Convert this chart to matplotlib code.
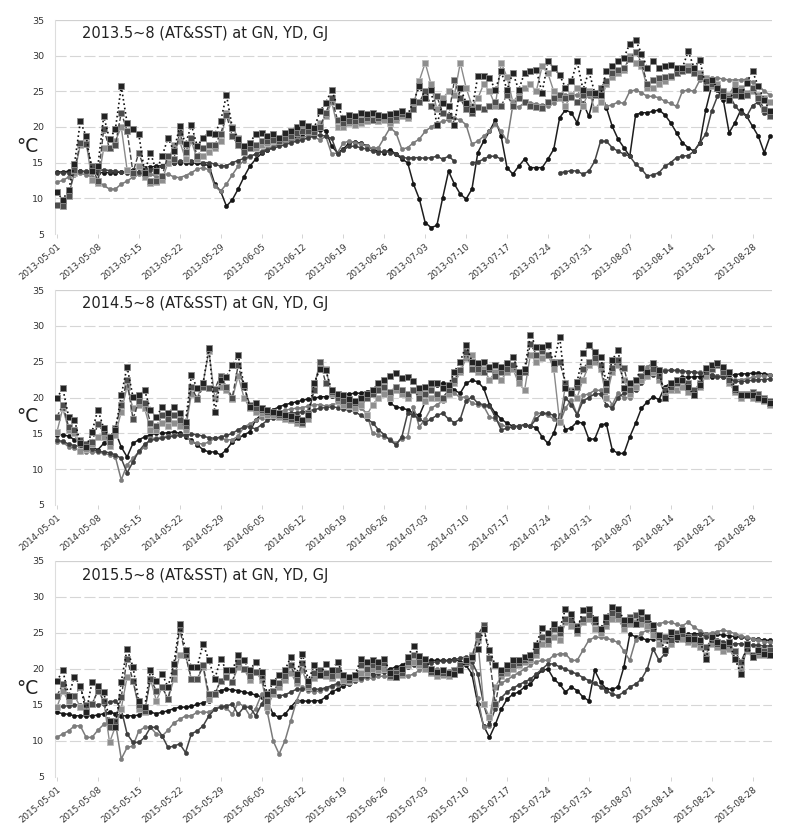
"""
AT & SST daily series (May-Aug) at GN, YD, GJ for 2013, 2014, 2015
"""

import matplotlib
matplotlib.use("Agg")
import matplotlib.pyplot as plt
import matplotlib.dates as mdates
import pandas as pd

nan = float('nan')

# ---------------- 2013 ----------------
at_gn_2013 = [10.9, 9.8, 11.2, 14.8, 20.8, 18.7, 13.8, 14.5, 21.5, 18.3,
              19.7, 25.7, 20.6, 19.7, 19.0, 13.6, 16.4, 13.8, 15.9, 18.5,
              16.6, 20.1, 17.6, 20.3, 17.3, 18.5, 19.2, 19.0, 20.8, 24.5,
              19.9, 18.3, 17.3, 17.8, 19.0, 19.2, 18.8, 19.0, 18.5, 19.2,
              19.5, 20.0, 20.5, 20.2, 19.8, 22.2, 23.4, 25.2, 22.9, 21.3,
              21.7, 21.5, 22.0, 21.8, 22.0, 21.7, 21.5, 21.8, 22.0, 22.2,
              21.7, 23.6, 25.7, 24.0, 25.2, 20.3, 23.4, 23.0, 20.3, 25.5,
              23.4, 22.4, 27.1, 27.2, 26.9, 25.2, 27.8, 25.2, 27.6, 25.2,
              27.6, 27.8, 28.0, 24.8, 29.2, 28.3, 27.3, 25.5, 26.4, 29.2,
              25.2, 27.8, 24.8, 24.5, 27.8, 28.5, 29.2, 29.7, 31.7, 32.2,
              30.3, 28.3, 29.2, 28.3, 28.5, 28.7, 28.3, 28.3, 30.6, 28.3,
              29.4, 25.5, 26.6, 25.5, 24.3, 23.8, 25.2, 24.3, 26.2, 27.8,
              25.7, 23.8, 22.2]
at_yd_2013 = [9.0, 8.9, 10.3, 14.0, 17.8, 17.6, 14.5, 12.4, 19.7, 17.0,
              17.5, 22.0, 19.5, 13.6, 16.4, 14.0, 12.4, 12.4, 13.2, 16.0,
              15.5, 19.2, 16.5, 18.5, 16.0, 17.0, 17.5, 17.5, 19.0, 21.7,
              18.7, 17.5, 16.5, 17.0, 17.5, 18.0, 18.0, 18.2, 18.0, 18.5,
              18.8, 19.2, 19.5, 19.5, 19.3, 20.0, 22.0, 24.0, 21.0, 20.5,
              20.8, 20.8, 21.0, 21.2, 21.0, 21.3, 21.5, 21.0, 21.4, 21.8,
              21.5, 22.5, 23.5, 25.0, 23.0, 24.3, 22.0, 21.5, 26.6, 24.0,
              22.5, 22.0, 22.8, 22.5, 23.0, 23.5, 23.0, 24.5, 23.0, 24.0,
              23.5, 23.0, 22.8, 22.7, 23.5, 24.0, 24.5, 24.0, 24.2, 23.5,
              24.5, 24.8, 24.5, 25.5, 26.5, 27.5, 28.0, 28.3, 29.5, 30.5,
              29.0, 26.0, 26.6, 26.8, 27.0, 27.2, 27.5, 27.8, 28.0, 27.5,
              27.0, 26.5, 26.0, 25.5, 25.0, 24.0, 24.5, 25.0, 24.5, 25.5,
              24.0, 22.5, 21.5]
at_gj_2013 = [9.0, 9.2, 10.5, 13.5, 17.5, 17.8, 12.5, 12.2, 17.0, 17.0,
              18.0, 20.0, 14.0, 13.5, 14.5, 13.0, 12.2, 12.3, 12.6, 15.0,
              17.5, 18.0, 15.5, 18.0, 15.5, 16.0, 16.5, 17.0, 18.0, 22.0,
              20.0, 18.5, 16.8, 17.2, 17.0, 17.5, 17.8, 18.0, 18.5, 18.8,
              19.0, 19.5, 19.8, 20.0, 19.6, 20.5, 21.5, 23.5, 20.0, 20.0,
              20.5, 20.3, 20.5, 20.8, 21.0, 20.8, 21.0, 20.5, 21.0, 21.5,
              21.2, 23.0, 26.5, 29.0, 26.0, 22.5, 24.0, 25.0, 24.5, 29.0,
              25.5, 23.0, 24.0, 26.0, 25.0, 23.0, 29.0, 27.0, 23.5, 24.5,
              25.5, 26.0, 25.0, 28.5, 27.5, 25.0, 24.0, 23.0, 24.5, 25.5,
              23.0, 25.0, 22.5, 23.5, 26.0, 27.0, 27.5, 28.0, 30.0, 29.0,
              28.5, 25.5, 25.5, 26.0, 26.5, 27.0, 27.5, 28.0, 28.5, 28.0,
              27.5, 26.8, 25.8, 26.0, 25.0, 24.5, 26.0, 25.5, 24.8, 25.0,
              24.5, 24.0, 23.5]
sst_gn_2013 = [13.7, 13.7, 13.8, 13.8, 13.8, 13.7, 13.7, 13.6, 13.6, 13.6,
               13.6, 13.7, 13.8, 14.0, 14.2, 14.3, 14.4, 14.5, 14.6, 14.8,
               15.0, 15.0, 15.0, 15.0, 14.9, 14.8, 14.6, 12.0, 11.0, 8.9,
               9.8, 11.3, 13.0, 14.5, 15.5, 16.3, 16.8, 17.2, 17.6, 18.0,
               18.3, 18.6, 18.9, 19.2, 19.4, 19.6, 19.5, 17.3, 16.4, 16.9,
               17.8, 17.9, 17.7, 17.4, 16.9, 16.6, 16.4, 16.8, 16.2, 15.5,
               15.0, 12.0, 9.9, 6.6, 5.9, 6.2, 10.1, 13.8, 12.0, 10.6,
               9.9, 11.3, 16.4, 18.0, 19.4, 21.0, 18.7, 14.3, 13.4, 14.5,
               15.5, 14.3, 14.3, 14.3, 15.5, 16.9, 21.3, 22.4, 22.0, 20.6,
               23.4, 21.5, 24.8, 25.0, 22.7, 20.1, 18.3, 17.1, 15.9, 21.7,
               22.0, 22.0, 22.2, 22.4, 21.7, 20.6, 19.2, 17.8, 17.1, 16.6,
               17.8, 22.4, 25.7, 25.2, 23.8, 19.2, 20.6, 22.4, 21.5, 20.1,
               18.7, 16.4, 18.7]
sst_yd_2013 = [12.3, 12.5, 13.0, 13.3, 13.5, 13.3, 13.0, 12.5, 11.8, 11.3,
               11.3, 12.0, 12.4, 13.0, 13.4, 13.6, 13.4, 13.0, 13.2, 13.4,
               13.0, 12.9, 13.2, 13.6, 14.1, 14.3, 14.0, 11.7, 11.0, 12.0,
               13.3, 14.5, 15.3, 15.8, 16.2, 16.6, 17.0, 17.3, 17.6, 17.8,
               18.0, 18.3, 18.5, 18.8, 18.6, 18.2, 18.7, 16.2, 16.4, 17.8,
               18.0, 17.8, 17.6, 17.3, 17.0, 17.1, 18.5, 19.9, 19.2, 16.9,
               17.1, 17.8, 18.3, 19.4, 20.0, 20.5, 20.8, 21.0, 21.2, 21.0,
               20.3, 17.6, 18.0, 18.7, 19.4, 20.4, 19.4, 18.0, 23.1, 22.8,
               23.4, 23.4, 23.2, 23.1, 23.0, 23.4, 24.3, 24.5, 24.5, 24.5,
               24.3, 24.3, 24.5, 24.5, 22.9, 23.1, 23.5, 23.3, 25.0, 25.2,
               24.8, 24.3, 24.3, 24.1, 23.6, 23.3, 22.9, 25.0, 25.2, 25.0,
               26.6, 27.0, 26.9, 26.9, 26.7, 26.6, 26.6, 26.6, 26.7, 26.3,
               25.9, 25.0, 24.5]
sst_gj_2013 = [13.5, 13.6, 13.6, 13.7, 13.8, 13.8, 13.9, 13.9, 14.0, 13.9,
               13.8, 13.7, 13.6, 13.6, 13.7, 13.8, 14.0, 14.2, 14.5, 14.8,
               15.0, 15.2, 15.3, 15.3, 15.2, 15.0, 15.0, 14.8, 14.5, 14.6,
               15.0, 15.3, 15.6, 15.9, 16.2, 16.5, 16.8, 17.0, 17.3, 17.5,
               17.8, 18.0, 18.2, 18.5, 18.7, 18.9, 18.7, 18.4, 16.2, 16.8,
               17.3, 17.3, 17.1, 16.9, 16.6, 16.4, 16.6, 16.4, 16.2, 15.8,
               15.6, 15.7, 15.7, 15.6, 15.7, 15.9, 15.5, 15.9, 15.2, nan,
               nan, 15.0, 15.1, 15.5, 15.9, 15.9, 15.5, nan, nan, nan,
               nan, nan, nan, nan, nan, nan, 13.6, 13.7, 13.9, 13.8,
               13.4, 13.8, 15.2, 18.0, 18.0, 17.1, 16.6, 16.2, 15.9, 14.8,
               14.1, 13.1, 13.3, 13.6, 14.5, 15.0, 15.7, 15.9, 16.0, 16.6,
               17.8, 19.0, 22.2, 24.3, 25.0, 24.5, 23.0, 22.0, 21.5, 23.0,
               23.5, 22.0, 21.5]

# ---------------- 2014 ----------------
at_gn_2014 = [19.9, 21.3, 17.3, 16.9, 13.6, 13.1, 15.2, 18.3, 15.7, 14.5,
              15.5, 20.3, 24.3, 20.1, 20.3, 21.0, 18.3, 17.3, 18.7, 17.8,
              18.7, 17.8, 16.6, 23.1, 21.3, 22.0, 26.9, 18.0, 22.4, 22.9,
              24.5, 25.9, 21.7, 18.7, 19.2, 18.5, 18.2, 18.0, 17.8, 17.6,
              17.4, 17.2, 16.9, 17.6, 22.0, 24.0, 23.8, 21.0, 20.5, 20.3,
              19.8, 19.5, 20.0, 20.5, 21.0, 22.0, 22.5, 23.0, 23.4, 22.7,
              22.8, 22.3, 21.3, 21.5, 22.0, 22.0, 21.3, 21.7, 23.6, 25.0,
              27.3, 25.0, 24.8, 25.0, 24.3, 24.5, 24.2, 24.8, 25.7, 23.6,
              24.0, 28.7, 27.1, 27.0, 27.3, 24.8, 28.5, 21.3, 20.6, 22.2,
              26.2, 27.3, 26.4, 25.7, 22.0, 25.2, 26.6, 21.3, 22.0, 22.4,
              24.1, 23.5, 24.8, 23.8, 19.9, 22.0, 22.4, 22.4, 21.5, 20.3,
              21.7, 24.1, 24.5, 24.8, 24.3, 23.5, 21.3, 20.3, 20.3, 20.3,
              20.0, 19.6, 19.2]
at_yd_2014 = [17.3, 19.0, 15.9, 15.5, 14.0, 13.5, 13.8, 16.3, 15.2, 13.8,
              15.8, 19.0, 22.5, 17.0, 19.5, 19.3, 16.5, 16.0, 17.5, 17.0,
              17.5, 16.8, 16.0, 21.5, 19.8, 21.5, 21.3, 21.2, 23.0, 21.5,
              20.0, 24.5, 21.5, 19.0, 18.5, 18.2, 18.0, 17.8, 17.6, 17.3,
              17.0, 16.8, 16.5, 17.8, 21.0, 25.0, 22.0, 20.8, 20.0, 19.5,
              19.0, 19.2, 19.8, 20.0, 20.5, 21.0, 21.5, 20.8, 21.5, 21.0,
              20.5, 21.0, 20.0, 20.5, 21.0, 20.5, 20.0, 21.0, 22.5, 23.8,
              26.4, 24.0, 24.0, 23.5, 24.0, 23.0, 23.5, 24.0, 24.5, 22.8,
              23.5, 27.5, 26.0, 26.5, 26.0, 25.0, 25.0, 22.0, 20.6, 21.5,
              24.0, 25.0, 25.5, 24.5, 21.0, 24.1, 25.2, 24.1, 21.0, 22.4,
              23.0, 23.5, 24.0, 23.0, 21.0, 21.5, 22.0, 22.5, 22.0, 21.0,
              22.0, 23.5, 24.0, 24.5, 23.5, 22.5, 21.0, 20.5, 20.5, 20.8,
              20.5, 20.0, 19.5]
at_gj_2014 = [15.2, 18.5, 15.5, 15.0, 12.5, 12.8, 13.5, 14.5, 14.5, 13.2,
              14.8, 18.0, 21.5, 18.5, 19.0, 18.5, 15.5, 15.5, 16.5, 16.0,
              16.5, 16.0, 15.5, 20.5, 20.0, 22.0, 26.5, 20.0, 21.5, 21.0,
              19.8, 23.0, 20.0, 18.5, 18.0, 17.8, 17.6, 17.5, 17.3, 17.0,
              16.8, 16.5, 16.3, 17.0, 21.5, 25.0, 24.0, 20.5, 19.5, 19.0,
              18.8, 18.5, 19.0, 17.5, 19.0, 20.0, 20.5, 20.0, 21.0, 20.5,
              20.0, 21.0, 20.5, 19.5, 20.0, 20.0, 19.8, 20.5, 22.0, 23.5,
              25.5, 26.0, 23.5, 24.0, 22.5, 23.5, 22.5, 23.5, 24.0, 22.0,
              21.0, 26.0, 25.0, 25.5, 26.0, 24.0, 16.6, 21.7, 21.0, 20.0,
              22.5, 24.5, 25.0, 24.0, 20.0, 23.5, 24.5, 22.5, 20.5, 21.5,
              22.5, 23.0, 23.5, 22.5, 20.5, 21.0, 21.0, 21.5, 20.8, 20.3,
              21.5, 23.0, 24.5, 24.8, 24.0, 22.0, 20.8, 20.0, 20.3, 20.0,
              19.8, 19.5, 19.0]
sst_gn_2014 = [14.8, 14.8, 14.6, 14.1, 14.0, 13.6, 13.1, 12.7, 13.6, 14.5,
               15.2, 13.1, 11.7, 13.6, 14.1, 14.5, 14.8, 15.0, 15.0, 15.1,
               15.2, 15.0, 14.5, 14.0, 13.4, 12.7, 12.4, 12.4, 12.0, 12.7,
               13.8, 14.3, 14.8, 15.2, 16.9, 17.6, 18.0, 18.3, 18.7, 19.0,
               19.2, 19.4, 19.6, 19.8, 19.9, 20.1, 20.1, 20.2, 20.3, 20.4,
               20.5, 20.6, 20.6, 20.8, 21.0, 21.3, 21.0, 19.2, 18.7, 18.5,
               18.3, 17.8, 17.5, 19.4, 21.7, 21.7, 22.0, 21.8, 21.0, 20.6,
               22.0, 22.4, 22.2, 21.3, 19.0, 17.8, 17.0, 16.4, 16.0, 15.9,
               16.2, 16.0, 15.8, 14.5, 13.6, 15.0, 17.6, 15.5, 15.8, 16.6,
               16.4, 14.2, 14.2, 16.2, 16.3, 12.7, 12.2, 12.2, 14.5, 16.4,
               18.5, 19.4, 20.1, 19.7, 21.5, 22.0, 22.4, 22.9, 22.8, 22.9,
               22.9, 22.9, 22.9, 23.0, 23.0, 23.1, 23.2, 23.3, 23.3, 23.4,
               23.4, 23.3, 23.2]
sst_yd_2014 = [13.8, 13.8, 13.1, 13.0, 12.4, 12.4, 12.4, 12.4, 12.2, 12.0,
               11.7, 8.5, 10.6, 11.5, 12.4, 13.1, 14.3, 14.3, 14.5, 14.6,
               14.8, 14.8, 14.8, 13.8, 13.6, 13.5, 13.8, 14.3, 14.3, 14.1,
               14.1, 14.6, 15.9, 16.3, 16.8, 17.2, 17.5, 17.8, 18.0, 18.2,
               18.4, 18.5, 18.6, 18.8, 19.0, 19.0, 18.8, 19.0, 19.2, 19.0,
               18.8, 18.6, 18.5, 17.8, 15.0, 14.8, 14.5, 14.2, 13.6, 14.2,
               14.5, 18.7, 15.9, 17.0, 18.5, 19.0, 19.5, 20.3, 20.6, 20.0,
               20.1, 19.2, 19.0, 18.8, 17.3, 17.0, 16.2, 15.9, 15.9, 16.0,
               16.2, 16.0, 17.8, 17.8, 17.5, 17.0, 16.4, 18.5, 19.7, 17.6,
               20.3, 20.5, 21.0, 21.0, 20.2, 19.0, 20.6, 20.0, 20.0, 21.5,
               22.9, 24.3, 24.8, 24.0, 23.8, 23.8, 23.7, 23.6, 23.6, 23.6,
               23.5, 23.4, 23.2, 23.0, 22.8, 22.6, 22.5, 22.5, 22.6, 22.8,
               23.0, 23.0, 23.1]
sst_gj_2014 = [14.0, 13.9, 13.5, 13.3, 13.2, 13.0, 12.8, 12.5, 12.4, 12.3,
               12.0, 11.5, 9.5, 11.0, 12.5, 13.5, 14.0, 14.2, 14.3, 14.5,
               14.6, 14.7, 14.8, 14.9, 14.8, 14.6, 14.4, 14.3, 14.5, 14.7,
               15.0, 15.5, 15.9, 15.9, 15.6, 16.2, 16.8, 17.2, 17.5, 17.7,
               17.8, 17.9, 18.0, 18.1, 18.3, 18.5, 18.6, 18.7, 18.6, 18.4,
               18.2, 18.0, 17.5, 17.0, 16.5, 15.5, 14.8, 14.0, 13.4, 14.5,
               17.8, 17.5, 17.0, 16.5, 17.0, 17.5, 17.8, 17.0, 16.5, 17.0,
               19.5, 20.1, 19.2, 19.0, 18.8, 17.3, 15.5, 15.7, 15.9, 16.0,
               16.2, 16.0, 17.0, 17.8, 17.8, 17.5, 16.4, 20.0, 19.0, 17.6,
               19.5, 20.0, 20.5, 20.5, 19.0, 18.5, 20.0, 20.6, 20.5, 21.0,
               22.0, 22.8, 23.2, 23.5, 23.7, 23.8, 23.8, 23.7, 23.6, 23.5,
               23.4, 23.3, 23.1, 22.9, 22.8, 22.5, 22.3, 22.2, 22.3, 22.4,
               22.5, 22.5, 22.6]

# ---------------- 2015 ----------------
at_gn_2015 = [18.3, 19.8, 16.3, 18.9, 17.7, 14.0, 18.2, 17.7, 16.8, 12.8,
              11.9, 18.2, 22.8, 20.3, 15.6, 14.7, 19.8, 18.4, 19.3, 17.5,
              20.7, 26.3, 22.6, 20.3, 20.3, 23.5, 21.2, 18.6, 21.4, 19.8,
              19.8, 21.9, 21.2, 19.8, 21.0, 19.6, 16.5, 18.2, 19.1, 19.8,
              21.7, 19.3, 22.1, 18.4, 20.5, 19.1, 20.7, 19.8, 21.0, 19.1,
              18.9, 19.2, 21.4, 21.0, 21.2, 21.0, 21.4, 19.5, 18.9, 20.0,
              21.7, 23.2, 21.8, 21.4, 20.0, 19.6, 19.8, 19.5, 19.3, 19.8,
              21.2, 21.7, 22.8, 25.5, 22.6, 20.5, 19.8, 20.5, 21.2, 21.2,
              21.7, 22.0, 23.4, 25.7, 25.0, 26.3, 25.5, 28.4, 27.7, 25.4,
              28.2, 28.4, 27.0, 25.6, 27.2, 28.6, 28.4, 26.8, 26.8, 26.3,
              27.9, 27.2, 26.1, 24.7, 22.6, 25.1, 24.4, 25.4, 24.2, 24.2,
              24.0, 21.4, 24.4, 23.7, 23.2, 23.7, 21.4, 19.3, 23.5, 21.6,
              22.6, 22.1, 21.9]
at_yd_2015 = [16.3, 17.9, 16.3, 16.3, 17.5, 15.0, 15.1, 17.0, 15.6, 11.9,
              12.8, 16.1, 21.4, 18.4, 15.0, 14.2, 18.6, 17.0, 17.5, 15.8,
              19.6, 25.6, 21.9, 18.6, 18.6, 20.5, 16.5, 16.5, 18.4, 18.9,
              18.2, 21.0, 20.0, 19.0, 19.6, 19.0, 15.5, 17.0, 18.0, 19.0,
              20.5, 18.5, 20.8, 17.8, 19.5, 19.8, 19.5, 19.0, 19.8, 19.0,
              18.5, 19.0, 20.5, 20.0, 20.5, 20.3, 20.8, 19.0, 19.5, 19.5,
              21.0, 22.0, 21.0, 20.5, 19.6, 19.4, 19.5, 19.3, 19.8, 20.5,
              21.0, 21.5, 24.7, 26.1, 21.5, 15.1, 19.5, 20.0, 20.5, 20.8,
              21.2, 21.5, 22.5, 24.5, 24.0, 25.5, 25.0, 27.0, 26.8, 26.0,
              27.0, 27.5, 26.5, 25.5, 26.5, 27.8, 27.5, 26.3, 27.2, 27.5,
              27.0, 26.8, 25.5, 24.5, 24.5, 24.0, 25.0, 24.8, 24.4, 24.0,
              23.8, 23.0, 24.0, 23.5, 23.0, 23.5, 22.5, 21.0, 22.8, 22.0,
              22.3, 22.5, 22.6]
at_gj_2015 = [14.7, 17.0, 15.5, 16.3, 14.7, 14.5, 15.1, 17.0, 15.6, 9.8,
              12.0, 14.5, 18.9, 18.4, 14.5, 14.0, 18.6, 15.6, 17.5, 15.8,
              18.6, 21.9, 21.9, 18.6, 18.6, 20.3, 15.8, 16.5, 18.4, 18.9,
              18.2, 20.3, 20.0, 18.5, 19.6, 18.5, 14.7, 16.5, 17.5, 18.5,
              19.5, 18.0, 19.8, 17.5, 18.8, 19.3, 19.0, 18.8, 19.1, 18.5,
              18.3, 18.8, 19.5, 19.5, 20.0, 19.8, 20.0, 18.9, 19.0, 19.2,
              20.5, 21.0, 20.5, 20.0, 19.5, 19.0, 19.2, 19.0, 19.5, 20.0,
              21.2, 22.0, 24.0, 15.1, 13.3, 17.5, 19.0, 19.5, 20.0, 20.5,
              21.0, 21.3, 22.0, 23.5, 23.5, 24.5, 24.0, 26.5, 26.0, 25.0,
              26.5, 27.0, 25.6, 25.0, 26.0, 27.0, 27.0, 25.5, 26.3, 26.5,
              26.3, 26.0, 24.7, 23.5, 24.0, 23.5, 24.5, 24.2, 23.8, 23.5,
              23.0, 22.0, 23.5, 23.0, 22.5, 22.8, 21.4, 20.0, 22.5, 21.6,
              22.0, 22.0, 22.2]
sst_gn_2015 = [14.0, 13.8, 13.7, 13.5, 13.5, 13.5, 13.5, 13.6, 13.8, 14.0,
               13.8, 13.5, 13.5, 13.5, 13.6, 14.0, 14.0, 13.8, 14.0, 14.2,
               14.5, 14.7, 14.7, 14.8, 15.1, 15.3, 15.6, 16.8, 17.0, 17.2,
               17.1, 17.0, 16.8, 16.6, 16.4, 16.1, 15.5, 13.7, 13.3, 13.7,
               14.7, 15.6, 15.6, 15.5, 15.6, 15.6, 16.1, 16.8, 17.2, 17.7,
               17.9, 18.4, 18.6, 19.1, 19.3, 19.6, 19.8, 20.0, 20.3, 20.5,
               20.7, 20.9, 21.0, 21.1, 21.2, 21.2, 21.2, 21.2, 21.4, 21.0,
               20.5, 19.3, 15.1, 12.1, 10.5, 12.3, 14.4, 15.8, 16.5, 16.8,
               17.5, 17.9, 19.0, 19.8, 20.0, 18.6, 17.9, 16.8, 17.5, 17.0,
               16.1, 15.6, 19.8, 18.2, 17.2, 17.2, 17.5, 20.3, 24.8, 24.5,
               24.3, 24.0, 24.2, 24.5, 24.6, 24.5, 24.4, 24.6, 24.8, 24.9,
               24.9, 24.9, 24.9, 24.8, 24.7, 24.6, 24.5, 24.4, 24.3, 24.2,
               24.1, 24.0, 24.0]
sst_yd_2015 = [10.5, 11.0, 11.4, 12.1, 12.1, 10.5, 10.5, 11.5, 12.3, 12.6,
               12.6, 7.5, 9.1, 9.3, 11.4, 11.9, 11.9, 11.0, 10.7, 11.5,
               12.5, 13.0, 13.5, 13.5, 14.0, 14.0, 14.0, 14.5, 14.8, 14.6,
               13.7, 15.3, 14.8, 13.5, 14.5, 16.5, 14.0, 10.0, 8.2, 10.0,
               12.8, 15.6, 17.5, 17.0, 16.8, 17.0, 17.2, 17.5, 17.8, 18.0,
               18.0, 18.3, 18.5, 18.8, 18.7, 19.0, 19.0, 18.8, 19.2, 19.5,
               19.0, 19.3, 19.8, 20.0, 19.8, 20.0, 19.5, 19.7, 20.0, 20.5,
               21.2, 20.3, 16.0, 11.9, 12.1, 17.5, 18.0, 18.5, 19.0, 19.5,
               20.0, 20.5, 21.0, 21.2, 21.2, 21.9, 22.1, 22.1, 21.2, 21.2,
               22.6, 24.0, 24.4, 24.4, 24.3, 24.0, 23.7, 22.5, 21.2, 24.0,
               25.0, 25.4, 26.0, 26.3, 26.5, 26.5, 26.2, 26.0, 26.5, 25.8,
               25.3, 24.9, 25.0, 25.2, 25.4, 25.2, 24.9, 24.6, 24.4, 24.2,
               24.0, 23.8, 23.7]
sst_gj_2015 = [14.7, 14.8, 14.9, 15.0, 15.0, 15.0, 15.0, 15.0, 15.2, 15.4,
               15.6, 14.4, 11.0, 9.8, 9.8, 10.5, 11.9, 11.9, 10.7, 9.1,
               9.3, 9.6, 8.4, 11.0, 11.4, 12.1, 13.5, 14.4, 14.7, 14.9,
               15.1, 13.7, 14.7, 14.7, 13.5, 15.1, 16.5, 16.5, 16.3, 16.4,
               16.8, 17.2, 17.2, 17.2, 17.2, 17.2, 17.4, 17.7, 18.0, 18.2,
               18.3, 18.5, 18.8, 19.0, 19.2, 19.4, 19.6, 19.7, 19.9, 20.1,
               20.3, 20.5, 20.6, 20.8, 20.9, 21.0, 21.1, 21.1, 21.3, 21.5,
               21.7, 21.0, 19.3, 15.1, 12.3, 14.5, 16.0, 16.8, 17.3, 17.8,
               18.2, 18.6, 19.3, 20.0, 20.7, 20.7, 20.3, 20.0, 19.6, 19.3,
               18.8, 18.4, 18.0, 17.5, 17.0, 16.5, 16.3, 16.8, 17.5, 17.9,
               18.6, 20.0, 22.8, 21.2, 22.1, 23.3, 24.0, 24.3, 24.5, 24.6,
               24.8, 24.5, 24.3, 24.0, 23.8, 23.5, 23.5, 23.5, 23.4, 23.3,
               23.3, 23.2, 23.2]

years = [2013, 2014, 2015]
panel_data = {
    2013: [at_gn_2013, at_yd_2013, at_gj_2013, sst_gn_2013, sst_yd_2013, sst_gj_2013],
    2014: [at_gn_2014, at_yd_2014, at_gj_2014, sst_gn_2014, sst_yd_2014, sst_gj_2014],
    2015: [at_gn_2015, at_yd_2015, at_gj_2015, sst_gn_2015, sst_yd_2015, sst_gj_2015],
}

# line styles for the six series (AT: squares, SST: circles)
styles = [
    dict(marker='s', ms=4.5, mfc='#222222', mec='#8a8a8a', mew=0.6, color='#111111', ls=':', lw=1.2),
    dict(marker='s', ms=4.5, mfc='#4d4d4d', mec='#a0a0a0', mew=0.6, color='#444444', ls='--', lw=1.0),
    dict(marker='s', ms=4.5, mfc='#8e8e8e', mec='#bbbbbb', mew=0.6, color='#8a8a8a', ls='-', lw=1.0),
    dict(marker='o', ms=3.0, mfc='#151515', mec='#151515', mew=0.4, color='#1e1e1e', ls='-', lw=1.1),
    dict(marker='o', ms=3.0, mfc='#7c7c7c', mec='#7c7c7c', mew=0.4, color='#7a7a7a', ls='-', lw=1.1),
    dict(marker='o', ms=3.0, mfc='#3e3e3e', mec='#3e3e3e', mew=0.4, color='#444444', ls='-', lw=1.1),
]
draw_order = [3, 4, 5, 2, 1, 0]

W, H = 809, 836
fig = plt.figure(figsize=(W / 100, H / 100), dpi=100)

# axes boxes in pixels: (top of 35, bottom at 5)
boxes = [(20, 234), (290, 505), (561, 777)]
ax_left, ax_right = 55, 772

for year, (top, bottom) in zip(years, boxes):
    ax = fig.add_axes([ax_left / W, 1 - bottom / H, (ax_right - ax_left) / W, (bottom - top) / H])
    dates = pd.date_range(f'{year}-05-01', f'{year}-08-31', freq='D')
    series = panel_data[year]
    for k, i in enumerate(draw_order):
        assert len(series[i]) == len(dates)
        ax.plot(dates, series[i], zorder=3 + k * 0.1, **styles[i])

    ax.set_ylim(5, 35)
    ax.set_yticks([5, 10, 15, 20, 25, 30, 35])
    ax.set_xlim(dates[0] - pd.Timedelta(hours=8), dates[-1] + pd.Timedelta(hours=8))
    ticks = pd.date_range(f'{year}-05-01', periods=18, freq='7D')
    ax.set_xticks(ticks)
    ax.xaxis.set_major_formatter(mdates.DateFormatter('%Y-%m-%d'))
    for lab in ax.get_xticklabels():
        lab.set_rotation(40)
        lab.set_ha('right')
        lab.set_rotation_mode('anchor')
    ax.tick_params(axis='x', labelsize=6.3, colors='#333333', length=3, width=0.6,
                   color='#cccccc', pad=3)
    ax.tick_params(axis='y', labelsize=6.8, colors='#333333', length=0, pad=8)

    for y in [10, 15, 20, 25, 30]:
        ax.axhline(y, color='#d6d6d6', lw=0.8, ls=(0, (10, 3)), zorder=1)
    ax.axhline(35, color='#d0d0d0', lw=0.9, zorder=1)

    for side in ['top', 'right', 'bottom']:
        ax.spines[side].set_visible(False)
    ax.spines['left'].set_color('#dddddd')
    ax.spines['left'].set_linewidth(0.8)

    ax.text(0.038, 0.935, f'{year}.5~8 (AT&SST) at GN, YD, GJ', transform=ax.transAxes,
            fontsize=10.5, color='#222222', va='center', ha='left')

    # y label "°C"
    fig.text(27 / W, 1 - (top + 127) / H, '°C', fontsize=13.5, color='#222222',
             ha='center', va='center')

fig.savefig('out.png', dpi=100)
